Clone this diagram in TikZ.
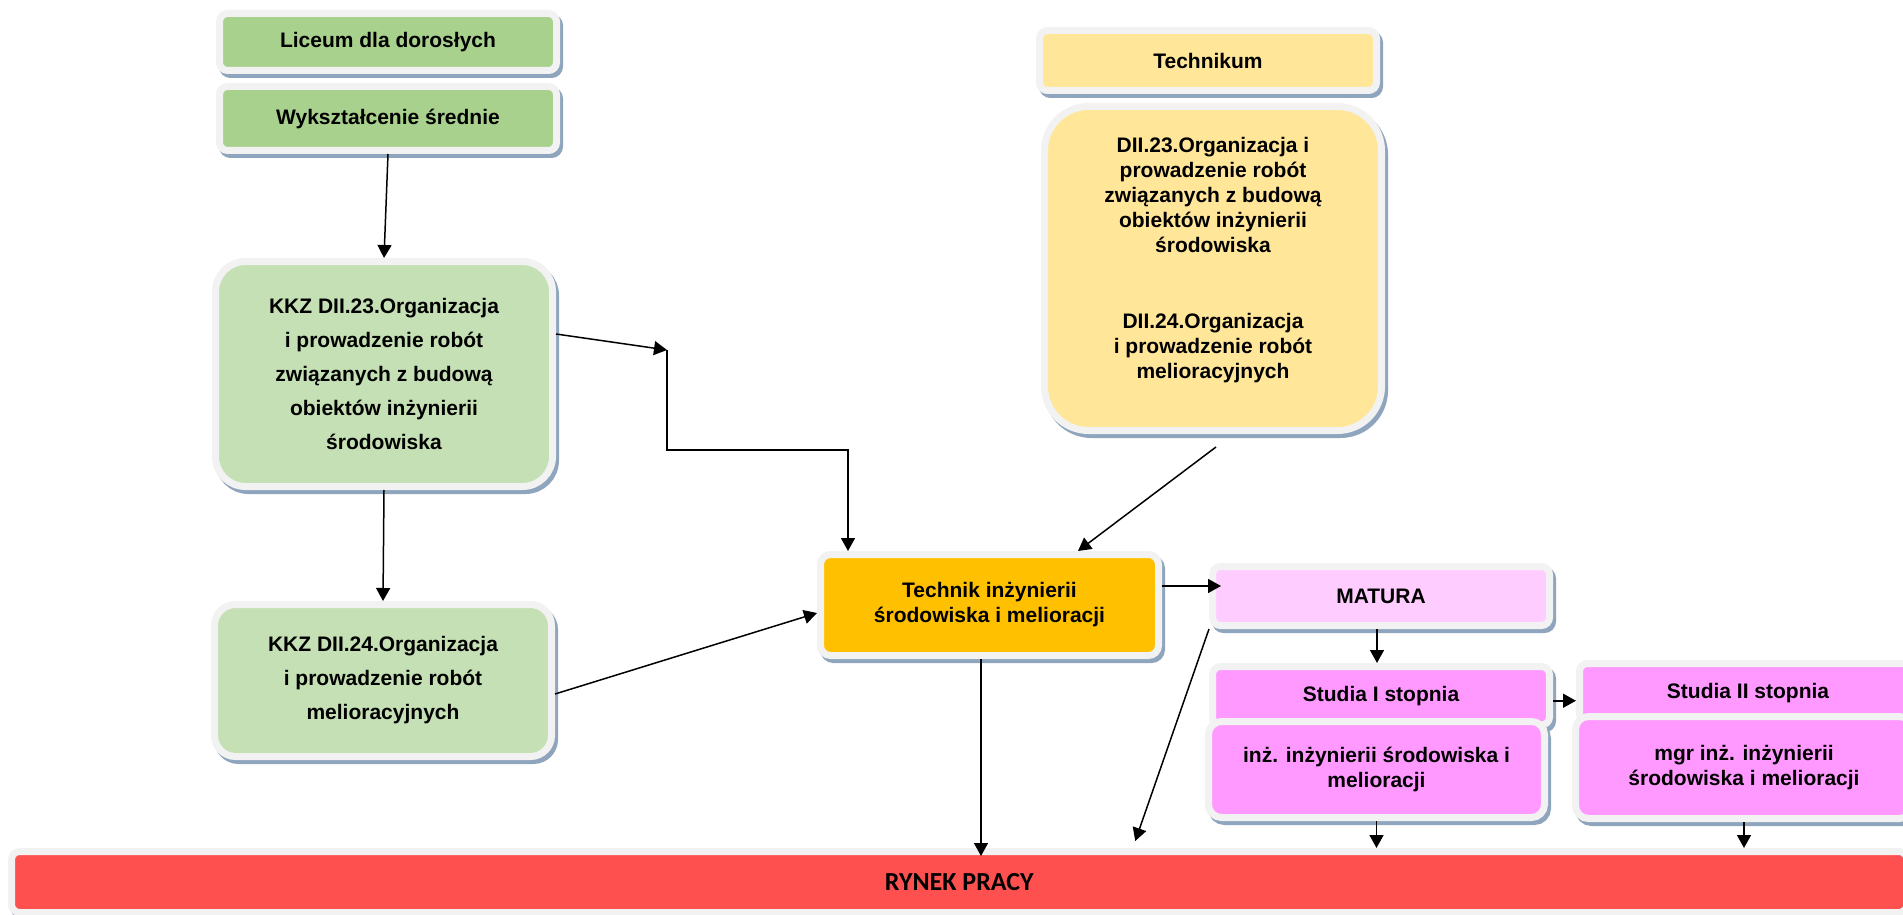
\documentclass[tikz,border=0pt]{standalone}
\usepackage{fontspec}
\setmainfont{Liberation Sans}
\newfontfamily\calibri{Carlito}
\usepackage{xcolor}
\usetikzlibrary{arrows.meta,positioning,calc,shadows}

\definecolor{ramka}{HTML}{F2F2F2}
\definecolor{cien}{HTML}{8EA5BD}
\definecolor{zielA}{HTML}{A9D18E}
\definecolor{zielB}{HTML}{C5E0B4}
\definecolor{zolty}{HTML}{FFE699}
\definecolor{pomar}{HTML}{FFC000}
\definecolor{rozA}{HTML}{FFCCFF}
\definecolor{rozB}{HTML}{FF99FF}
\definecolor{czerw}{HTML}{FF5050}

\begin{document}
\begin{tikzpicture}[
  x=0.5pt, y=-0.5pt,
  font=\fontsize{10.5}{12.5}\selectfont\bfseries,
  >={Triangle[length=6.5pt,width=7pt]},
  box/.style={draw=ramka,line width=3.5pt,rounded corners=4pt,align=center,inner sep=2pt,
    drop shadow={shadow xshift=1.5pt,shadow yshift=-2pt,fill=cien,draw=cien,line width=3.5pt,opacity=1}},
  szer/.style={minimum width=168.5pt},
  kkz/.style={box,szer,fill=zielB,rounded corners=15pt,font=\fontsize{10.5}{17}\selectfont\bfseries},
  arr/.style={->,line width=0.75pt},
]
\useasboundingbox (0,0) rectangle (1903,915);

% lewa kolumna
\node[box,szer,fill=zielA,minimum height=28.5pt] (lic) at (388,42) {Liceum dla dorosłych};
\node[box,szer,fill=zielA,minimum height=32pt,below=4.5pt of lic] (wyk) {Wykształcenie średnie};
\node[kkz,minimum height=112.5pt] (kkz23) at (384,374)
  {KKZ DII.23.Organizacja\\ i prowadzenie robót\\ związanych z budową\\ obiektów inżynierii\\ środowiska};
\node[kkz,minimum height=76pt,rounded corners=10.5pt] (kkz24) at (383,680.5)
  {KKZ DII.24.Organizacja\\ i prowadzenie robót\\ melioracyjnych};

% technikum
\node[box,szer,fill=zolty,minimum height=30pt] (tech) at (1208,60.5) {Technikum};
\node[box,szer,fill=zolty,minimum height=162pt,rounded corners=22pt] (dii) at (1213,268.5) {};
\node[align=center] (diitxt) at ([yshift=4.25pt]dii.center)
  {DII.23.Organizacja i\\ prowadzenie robót\\ związanych z budową\\ obiektów inżynierii\\ środowiska\\[25.5pt]
   DII.24.Organizacja\\ i prowadzenie robót\\ melioracyjnych};
\node[box,minimum width=169pt,minimum height=50.5pt,fill=pomar,rounded corners=5pt] (tiis) at (989.5,605)
  {Technik inżynierii\\ środowiska i melioracji};

% matura i studia
\node[box,szer,fill=rozA,minimum height=29.5pt] (mat) at (1381,596) {MATURA};
\node[box,szer,fill=rozB,minimum height=29.25pt] (st1) at (1381,695.75) {Studia I stopnia};
\node[box,minimum width=168pt,minimum height=48pt,fill=rozB,rounded corners=6.5pt] (inz) at (1376.5,769.5)
  {inż. inżynierii środowiska i\\ melioracji};
\node[box,szer,fill=rozB,minimum height=29.25pt] (st2) at (1748,692.75) {Studia II stopnia};
\node[box,szer,fill=rozB,minimum height=51pt,rounded corners=6.5pt] (mgr) at (1744,767.5)
  {mgr inż. inżynierii\\ środowiska i melioracji};

% rynek pracy
\node[box,fill=czerw,minimum width=947.75pt,minimum height=30.5pt,
  font=\calibri\fontsize{13}{15}\selectfont\bfseries] (rynek) at (959.25,882) {RYNEK PRACY};

\coordinate (zalom) at (667,350);
\coordinate (schod) at (667,450);

\draw[arr] (wyk.south) -- (kkz23.north);
\draw[arr] (kkz23.south) -- (kkz24.north);
\draw[arr] ([yshift=20pt]kkz23.east) -- (zalom);
\draw[arr] (zalom) -- (schod) -| ([xshift=15.5pt]tiis.north west);
\draw[arr] ([yshift=-6.75pt]kkz24.east) -- ([yshift=-4pt]tiis.west);
\draw[arr] ([shift={(1.5pt,-6.5pt)}]dii.south) -- ([xshift=44.25pt]tiis.north);
\draw[arr,shorten >=-6pt] ([yshift=9.5pt]tiis.east) -- ([yshift=9.5pt]tiis.east -| mat.west);
\draw[arr] ([xshift=-2pt]mat.south) -- ([xshift=-2pt]st1.north);
\draw[arr] ([yshift=-2.5pt]st1.east) -- ([yshift=-2.5pt]st1.east -| st2.west);
\draw[arr] (mat.south west) -- ([shift={(88pt,3.5pt)}]rynek.north);
\draw[arr,shorten >=-4pt] ([xshift=-4.25pt]tiis.south) -- ([xshift=-4.25pt]tiis.south |- rynek.north);
\draw[arr] (inz.south) -- (inz.south |- rynek.north);
\draw[arr] (mgr.south) -- (mgr.south |- rynek.north);
\end{tikzpicture}
\end{document}
